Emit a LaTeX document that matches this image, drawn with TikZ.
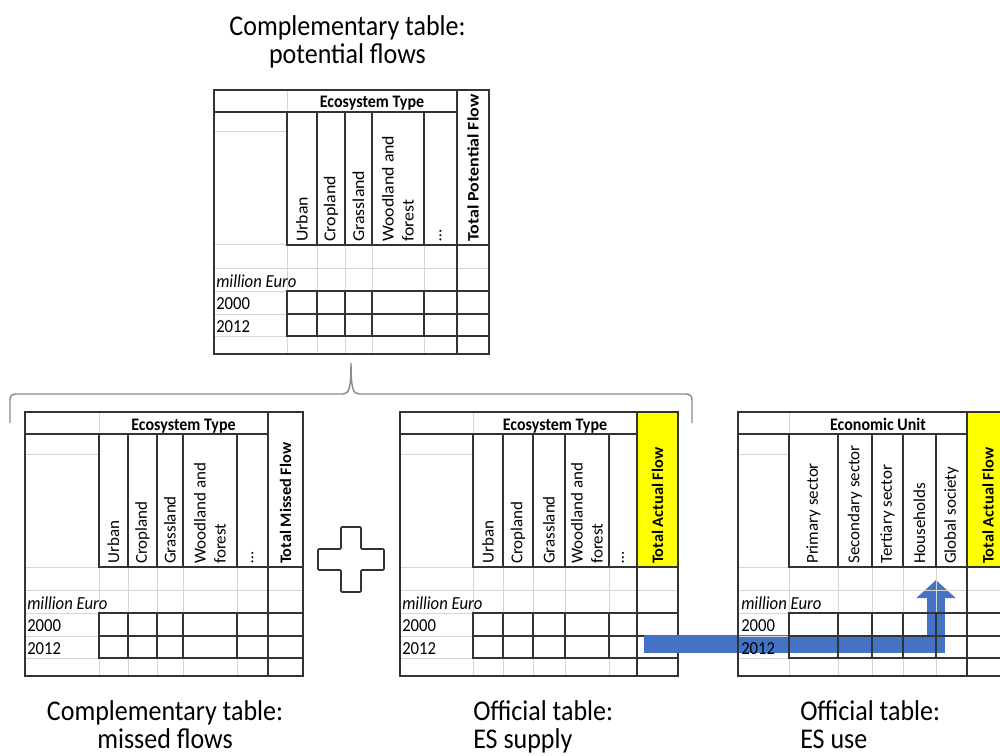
\documentclass[tikz,border=0pt]{standalone}
\usepackage{fontspec}
\setmainfont{Carlito}
\usetikzlibrary{arrows.meta}

\definecolor{gridgrey}{HTML}{D6D6D6}
\definecolor{rulegrey}{HTML}{333333}
\definecolor{bracegrey}{HTML}{8C8C8C}
\definecolor{flowblue}{HTML}{4472C4}
\definecolor{totalyellow}{HTML}{FFFF00}

\tikzset{
  cellrule/.style={draw=rulegrey, line width=0.9pt, line cap=rect},
  gridrule/.style={draw=gridgrey, line width=0.75pt},
  headtext/.style={font=\fontsize{12}{14.6}\selectfont\bfseries, inner sep=0pt, anchor=base, yscale=1.1},
  coltext/.style={font=\fontsize{12.5}{15}\selectfont, rotate=90, xscale=1.02, anchor=west, align=left, inner sep=0pt},
  totaltext/.style={font=\fontsize{12}{14.6}\selectfont\bfseries, rotate=90, xscale=1.02, anchor=west, inner sep=0pt},
  rowtext/.style={font=\fontsize{12.5}{15}\selectfont, anchor=base west, inner sep=0pt, yscale=1.1},
  captext/.style={font=\fontsize{19.5}{21}\selectfont, inner sep=0pt, anchor=base, yscale=1.1},
  capleft/.style={captext, anchor=base west},
}

% Spreadsheet-style account table.
% #1 left x, #2 top y, #3 first data column x, #4 inner column rules,
% #5 total column left x, #6 total column right x, #7 fill of the total header
\newcommand\esGrid[7]{%
  \fill[#7] (#5,#2) rectangle (#6,{#2+155});
  % light sheet gridlines
  \draw[gridrule] (#3,#2) -- (#3,{#2+22});
  \draw[gridrule] (#1,{#2+42}) -- (#3,{#2+42});
  \draw[gridrule] (#1,{#2+155}) -- (#3,{#2+155});
  \draw[gridrule] (#1,{#2+178}) -- (#6,{#2+178});
  \foreach \yy in {201,224,246} \draw[gridrule] (#1,{#2+\yy}) -- (#3,{#2+\yy});
  \foreach \xx in {#3,#4,#5} {
    \draw[gridrule] (\xx,{#2+155}) -- (\xx,{#2+201});
    \draw[gridrule] (\xx,{#2+246}) -- (\xx,{#2+264});
  }
  % cell borders
  \draw[cellrule] (#1,#2) rectangle (#6,{#2+264});
  \draw[cellrule] (#1,{#2+22}) -- (#5,{#2+22});
  \draw[cellrule] (#5,#2) -- (#5,{#2+264});
  \foreach \xx in {#3,#4} \draw[cellrule] (\xx,{#2+22}) -- (\xx,{#2+155});
  \draw[cellrule] (#3,{#2+155}) -- (#6,{#2+155});
  \foreach \yy in {201,224,246} \draw[cellrule] (#3,{#2+\yy}) -- (#6,{#2+\yy});
  \foreach \xx in {#3,#4} \draw[cellrule] (\xx,{#2+201}) -- (\xx,{#2+246});
}

\begin{document}
\begin{tikzpicture}[x=0.75pt, y=-0.75pt]
\useasboundingbox (0,0) rectangle (1000,756);
\begin{scope}
\clip (0,0) rectangle (1000,756);

% ---------- potential flows ----------
\esGrid{214}{90}{287}{317,345,372,424}{457}{489}{white}
\node[headtext] (pot-head) at (372,108) {Ecosystem Type};
\node[coltext, xscale=1.05] (pot-urban) at (302,242) {Urban};
\node[coltext, xscale=1.05] (pot-crop) at (331,242) {Cropland};
\node[coltext, xscale=1.05] (pot-grass) at (358.5,242) {Grassland};
\node[coltext, xscale=1.05] (pot-wood) at (398,242) {Woodland and\\forest};
\node[coltext] (pot-more) at (440.5,242) {\dots};
\node[totaltext, xscale=1.1] (pot-total) at (473,242) {Total Potential Flow};
\node[rowtext] (pot-unit) at (216,287) {\itshape million Euro};
\node[rowtext] (pot-y1) at (216,309) {2000};
\node[rowtext] (pot-y2) at (216,332) {2012};

% ---------- missed flows ----------
\esGrid{25}{412}{99}{128,157,183,237}{268}{303}{white}
\node[headtext] (mis-head) at (183.5,430) {Ecosystem Type};
\node[coltext] (mis-urban) at (113.5,564) {Urban};
\node[coltext] (mis-crop) at (142.5,564) {Cropland};
\node[coltext] (mis-grass) at (170,564) {Grassland};
\node[coltext] (mis-wood) at (210,564) {Woodland and\\forest};
\node[coltext] (mis-more) at (252.5,564) {\dots};
\node[totaltext] (mis-total) at (285.5,564) {Total Missed Flow};
\node[rowtext] (mis-unit) at (27,609) {\itshape million Euro};
\node[rowtext] (mis-y1) at (27,631) {2000};
\node[rowtext] (mis-y2) at (27,654) {2012};

% ---------- ES supply ----------
\esGrid{400}{412}{473}{503,533,565,609}{637}{678}{totalyellow}
\node[headtext] (sup-head) at (555,430) {Ecosystem Type};
\node[coltext] (sup-urban) at (488,564) {Urban};
\node[coltext] (sup-crop) at (518,564) {Cropland};
\node[coltext] (sup-grass) at (549,564) {Grassland};
\node[coltext] (sup-wood) at (587,564) {Woodland and\\forest};
\node[coltext] (sup-more) at (623,564) {\dots};
\node[totaltext] (sup-total) at (657.5,564) {Total Actual Flow};
\node[rowtext] (sup-unit) at (402,609) {\itshape million Euro};
\node[rowtext] (sup-y1) at (402,631) {2000};
\node[rowtext] (sup-y2) at (402,654) {2012};

% ---------- flow from supply to use ----------
\coordinate (flowsrc) at (644,644);
\coordinate (flowdst) at (936,580);
\draw[flowblue, line width=13.5pt, -{Triangle[width=28.5pt,length=13.5pt]}]
  (flowsrc) -| (flowdst);

% ---------- ES use ----------
\esGrid{738}{412}{789}{838,872,903,936}{967}{1008}{totalyellow}
\node[headtext] (use-head) at (878,430) {Economic Unit};
\node[coltext] (use-prim) at (813.5,564) {Primary sector};
\node[coltext] (use-sec) at (855,564) {Secondary sector};
\node[coltext] (use-ter) at (887.5,564) {Tertiary sector};
\node[coltext] (use-hh) at (919.5,564) {Households};
\node[coltext] (use-glob) at (951.5,564) {Global society};
\node[totaltext] (use-total) at (988,564) {Total Actual Flow};
\node[rowtext] (use-unit) at (741,609) {\itshape million Euro};
\node[rowtext] (use-y1) at (741,631) {2000};
\node[rowtext] (use-y2) at (741,654) {2012};

% ---------- brace splitting potential flows ----------
\draw[bracegrey, line width=1.1pt]
  (10,423) -- (10,400) .. controls (10,396) and (12,394) .. (16,394)
  -- (343,394) .. controls (349,394) and (351,388) .. (351,363)
  .. controls (351,388) and (353,394) .. (359,394)
  -- (686,394) .. controls (690,394) and (692,396) .. (692,400) -- (692,423);

% ---------- plus sign ----------
\draw[rulegrey, line width=1.2pt, fill=white, rounded corners=0.8pt]
  (341,527) -- (361,527) -- (361,549) -- (384,549) -- (384,570) -- (361,570)
  -- (361,592) -- (341,592) -- (341,570) -- (318,570) -- (318,549) -- (341,549) -- cycle;

% ---------- captions ----------
\node[captext] (cap-pot-1) at (347.5,36) {Complementary table:};
\node[captext] (cap-pot-2) at (347.5,64) {potential flows};
\node[captext] (cap-mis-1) at (165,720) {Complementary table:};
\node[captext] (cap-mis-2) at (165,748) {missed flows};
\node[capleft] (cap-sup-1) at (473,720) {Official table:};
\node[capleft] (cap-sup-2) at (473,748) {ES supply};
\node[capleft] (cap-use-1) at (800,720) {Official table:};
\node[capleft] (cap-use-2) at (800,748) {ES use};
\end{scope}
\end{tikzpicture}
\end{document}
